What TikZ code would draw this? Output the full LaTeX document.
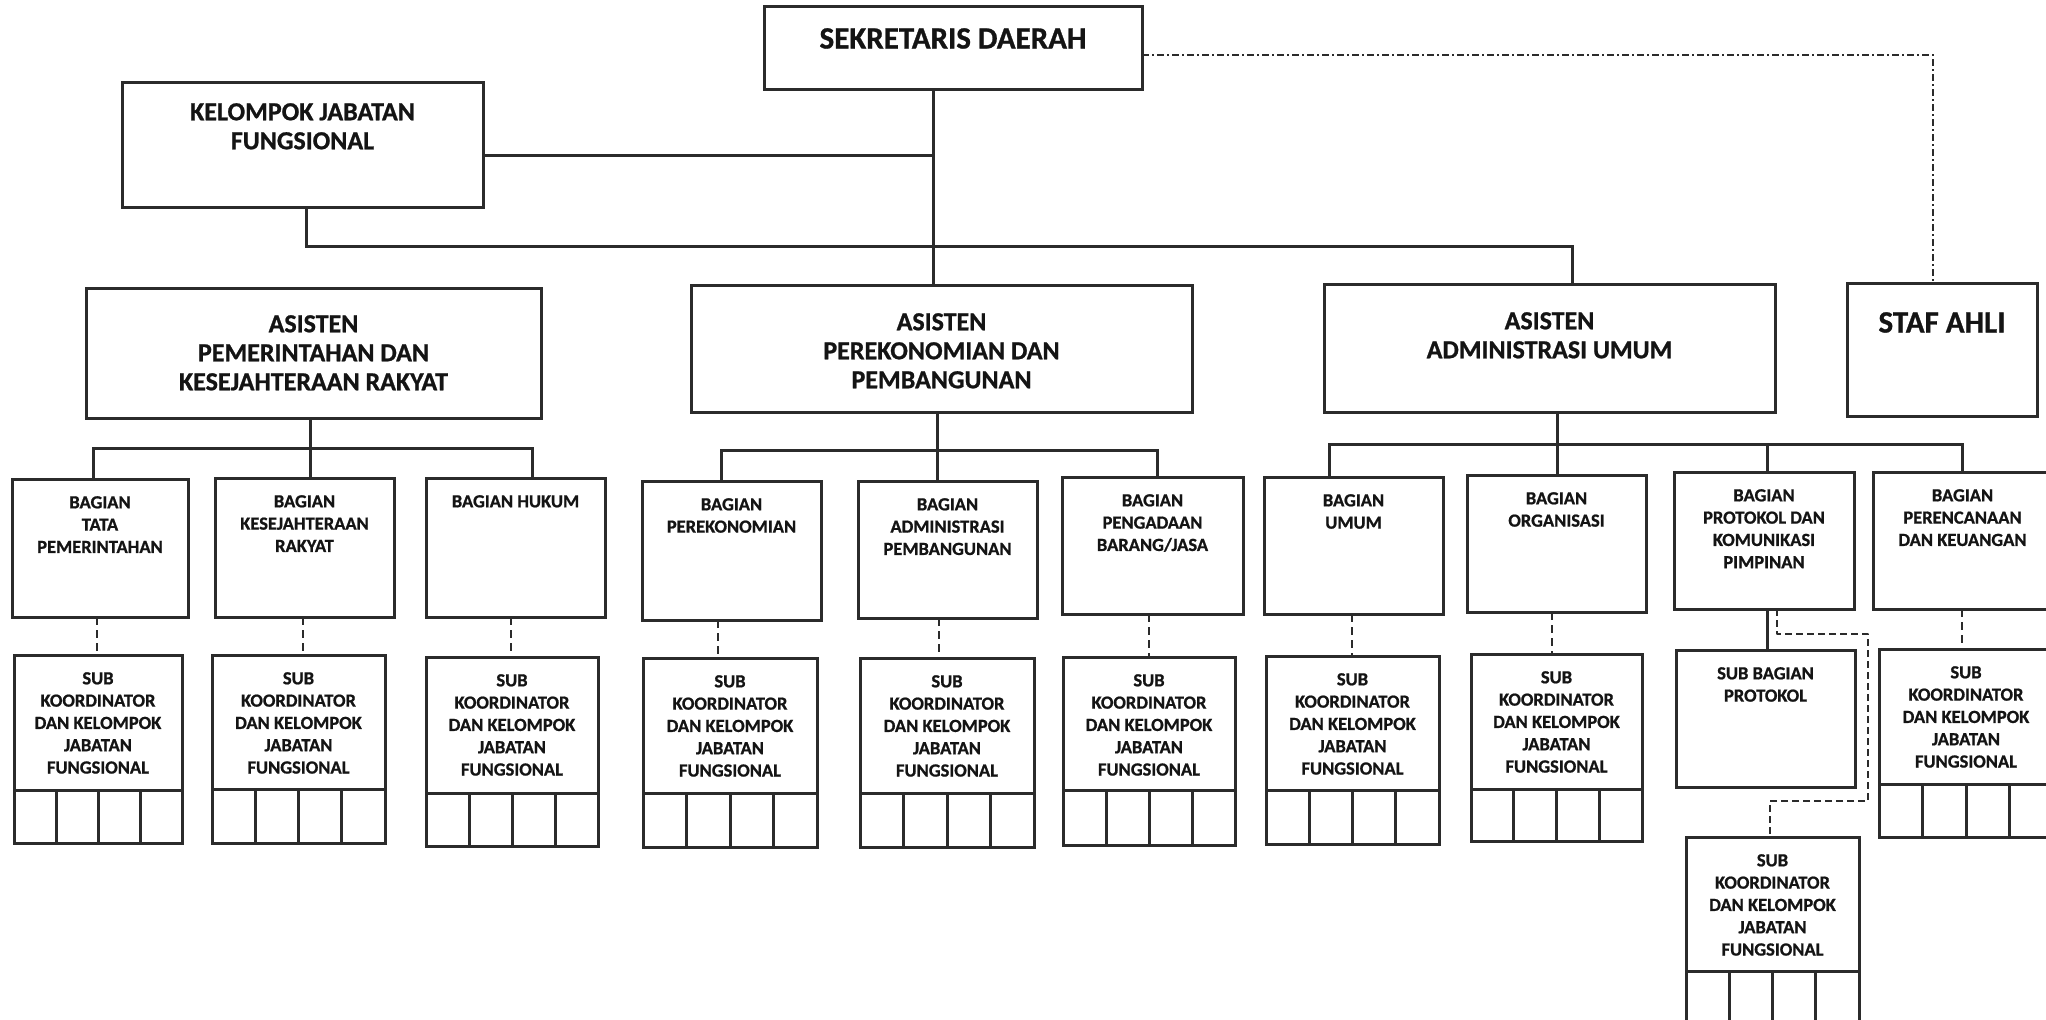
\documentclass[tikz,border=0pt]{standalone}
\usepackage{fontspec}
\setmainfont{Carlito}[BoldFeatures={FakeBold=0.9}]
\usetikzlibrary{calc}
\definecolor{ink}{HTML}{2B2B2B}
\definecolor{txt}{HTML}{141414}
\newcommand\obox[5]{\node[box, anchor=north west, minimum width={(#4)-(#2)}, minimum height={(#5)-(#3)}] (#1) at (#2,#3) {};}
\newcommand\ogrid[5]{%
  \node[box, anchor=north west, minimum width={(#4)-(#2)}, minimum height={(#5)-(#3)}] (#1) at (#2,#3) {};
  \foreach \f in {0.25,0.5,0.75}
    \draw[link] ($(#1.north west)!\f!(#1.north east)$) -- ($(#1.south west)!\f!(#1.south east)$);}
\newcommand\subtext{SUB\\KOORDINATOR\\DAN KELOMPOK\\JABATAN\\FUNGSIONAL}
\begin{document}
\begin{tikzpicture}[x=1pt,y=-1pt,
  box/.style={draw=ink, line width=3pt, fill=white, inner sep=0pt, outer sep=0pt},
  link/.style={draw=ink, line width=3pt},
  dlink/.style={draw=ink, line width=2.6pt, dash pattern=on 8pt off 5pt},
  plink/.style={draw=ink, line width=2.6pt, dash pattern=on 7pt off 4pt, line join=round},
  ddlink/.style={draw=ink, line width=1.8pt, dash pattern=on 7pt off 3pt on 2pt off 3pt},
  tsmall/.style={font=\bfseries\fontsize{18.5}{22.3}\selectfont, align=center, anchor=north, inner sep=0pt, text=txt},
  tmid/.style={font=\bfseries\fontsize{26}{29}\selectfont, align=center, anchor=north, inner sep=0pt, text=txt},
  tbig/.style={font=\bfseries\fontsize{31}{36}\selectfont, align=center, anchor=north, inner sep=0pt, text=txt}
]
\clip (0,0) rectangle (2046,1020);
\fill[white] (0,0) rectangle (2046,1020);

% ---- top level boxes
\obox{sek}{764}{6}{1142}{89}
\obox{kjf}{122}{82}{483}{207}
\obox{as1}{86}{288}{541}{418}
\obox{as2}{691}{285}{1192}{412}
\obox{as3}{1324}{284}{1775}{412}
\obox{staf}{1847}{283}{2037}{416}

\node[tbig] (sekt) at ($(sek.north)+(0,22)$) {SEKRETARIS DAERAH};
\node[tmid] (kjft) at ($(kjf.north)+(0,21)$) {KELOMPOK JABATAN\\FUNGSIONAL};
\node[tmid] (as1t) at ($(as1.north)+(0,27)$) {ASISTEN\\PEMERINTAHAN DAN\\KESEJAHTERAAN RAKYAT};
\node[tmid] (as2t) at ($(as2.north)+(0,28)$) {ASISTEN\\PEREKONOMIAN DAN\\PEMBANGUNAN};
\node[tmid] (as3t) at ($(as3.north)+(0,28)$) {ASISTEN\\ADMINISTRASI UMUM};
\node[tbig] (staft) at ($(staf.north)+(0,29)$) {STAF AHLI};

% ---- bagian boxes
\obox{b1}{12}{479}{188}{617}
\obox{b2}{215}{478}{394}{617}
\obox{b3}{426}{478}{605}{617}
\obox{b4}{642}{481}{821}{620}
\obox{b5}{858}{481}{1037}{618}
\obox{b6}{1062}{477}{1243}{614}
\obox{b7}{1264}{477}{1443}{614}
\obox{b8}{1467}{475}{1646}{612}
\obox{b9}{1674}{472}{1854}{609}
\obox{b10}{1873}{472}{2052}{609}

\node[tsmall] (b1t) at ($(b1.north)+(0,17)$) {BAGIAN\\TATA\\PEMERINTAHAN};
\node[tsmall] (b2t) at ($(b2.north)+(0,17)$) {BAGIAN\\KESEJAHTERAAN\\RAKYAT};
\node[tsmall] (b3t) at ($(b3.north)+(0,17)$) {BAGIAN HUKUM};
\node[tsmall] (b4t) at ($(b4.north)+(0,17)$) {BAGIAN\\PEREKONOMIAN};
\node[tsmall] (b5t) at ($(b5.north)+(0,17)$) {BAGIAN\\ADMINISTRASI\\PEMBANGUNAN};
\node[tsmall] (b6t) at ($(b6.north)+(0,17)$) {BAGIAN\\PENGADAAN\\BARANG/JASA};
\node[tsmall] (b7t) at ($(b7.north)+(0,17)$) {BAGIAN\\UMUM};
\node[tsmall] (b8t) at ($(b8.north)+(0,17)$) {BAGIAN\\ORGANISASI};
\node[tsmall] (b9t) at ($(b9.north)+(0,17)$) {BAGIAN\\PROTOKOL DAN\\KOMUNIKASI\\PIMPINAN};
\node[tsmall] (b10t) at ($(b10.north)+(0,17)$) {BAGIAN\\PERENCANAAN\\DAN KEUANGAN};

% ---- sub boxes with grids
\obox{s1}{14}{655}{182}{790}   \ogrid{g1}{14}{790}{182}{843}
\obox{s2}{212}{655}{385}{789}  \ogrid{g2}{212}{789}{385}{843}
\obox{s3}{426}{657}{598}{793}  \ogrid{g3}{426}{793}{598}{846}
\obox{s4}{643}{658}{817}{793}  \ogrid{g4}{643}{793}{817}{847}
\obox{s5}{860}{658}{1034}{793} \ogrid{g5}{860}{793}{1034}{847}
\obox{s6}{1063}{657}{1235}{790} \ogrid{g6}{1063}{790}{1235}{845}
\obox{s7}{1266}{656}{1439}{790} \ogrid{g7}{1266}{790}{1439}{844}
\obox{s8}{1471}{654}{1642}{789} \ogrid{g8}{1471}{789}{1642}{841}
\obox{sp}{1676}{650}{1855}{787}
\obox{s10}{1879}{649}{2053}{784} \ogrid{g10}{1879}{784}{2053}{837}
\obox{s9}{1686}{837}{1859}{971}  \ogrid{g9}{1686}{971}{1859}{1032}

\foreach \s in {s1,s2,s3,s4,s5,s6,s7,s8,s9,s10}
  \node[tsmall] (\s t) at ($(\s.north)+(0,17)$) {\subtext};
\node[tsmall] (spt) at ($(sp.north)+(0,17)$) {SUB BAGIAN\\PROTOKOL};

% ---- top connectors
\coordinate (xsp) at (933,0);
\coordinate (yk) at (0,155);
\coordinate (xk) at (306,0);
\coordinate (ybus) at (0,246);
\coordinate (x3) at (1572,0);
\coordinate (ys) at (0,55);
\coordinate (xs) at (1933,0);
\draw[link] (sek.south -| xsp) -- (as2.north -| xsp);
\draw[link] (kjf.east |- yk) -- (xsp |- yk);
\draw[link] (kjf.south -| xk) -- (xk |- ybus) -- (x3 |- ybus) -- (as3.north -| x3);
\draw[ddlink] (sek.east |- ys) -- (xs |- ys) -- (staf.north -| xs);

% ---- bus 1
\coordinate (d11) at (93,448); \coordinate (d12) at (310,448); \coordinate (d13) at (532,448);
\draw[link] (as1.south -| d12) -- (d12);
\draw[link] (b1.north -| d11) -- (d11) -- (d13) -- (b3.north -| d13);
\draw[link] (d12) -- (b2.north -| d12);
% ---- bus 2
\coordinate (d21) at (721,450); \coordinate (d22) at (937,450); \coordinate (d23) at (1157,450);
\draw[link] (as2.south -| d22) -- (d22);
\draw[link] (b4.north -| d21) -- (d21) -- (d23) -- (b6.north -| d23);
\draw[link] (d22) -- (b5.north -| d22);
% ---- bus 3
\coordinate (d31) at (1329,444); \coordinate (d32) at (1557,444); \coordinate (d33) at (1767,444); \coordinate (d34) at (1962,444);
\draw[link] (as3.south -| d32) -- (d32);
\draw[link] (b7.north -| d31) -- (d31) -- (d34) -- (b10.north -| d34);
\draw[link] (d32) -- (b8.north -| d32);
\draw[link] (d33) -- (b9.north -| d33);

% ---- dashed bagian -> sub
\foreach \b/\s/\x in {b1/s1/97, b2/s2/303, b3/s3/511, b4/s4/718, b5/s5/939, b6/s6/1149, b7/s7/1352, b8/s8/1552, b10/s10/1962}{
  \coordinate (vx) at (\x,0);
  \draw[dlink] (\b.south -| vx) -- (\s.north -| vx);
}

% ---- protokol connectors
\coordinate (xp) at (1767,0);
\draw[link] (b9.south -| xp) -- (sp.north -| xp);
\coordinate (p0) at (1777,0);
\coordinate (p1) at (1777,634);
\coordinate (p2) at (1868,634);
\coordinate (p3) at (1868,801);
\coordinate (p4) at (1770,801);
\draw[plink] (b9.south -| p0) -- (p1) -- (p2) -- (p3) -- (p4) -- (s9.north -| p4);
\end{tikzpicture}
\end{document}
